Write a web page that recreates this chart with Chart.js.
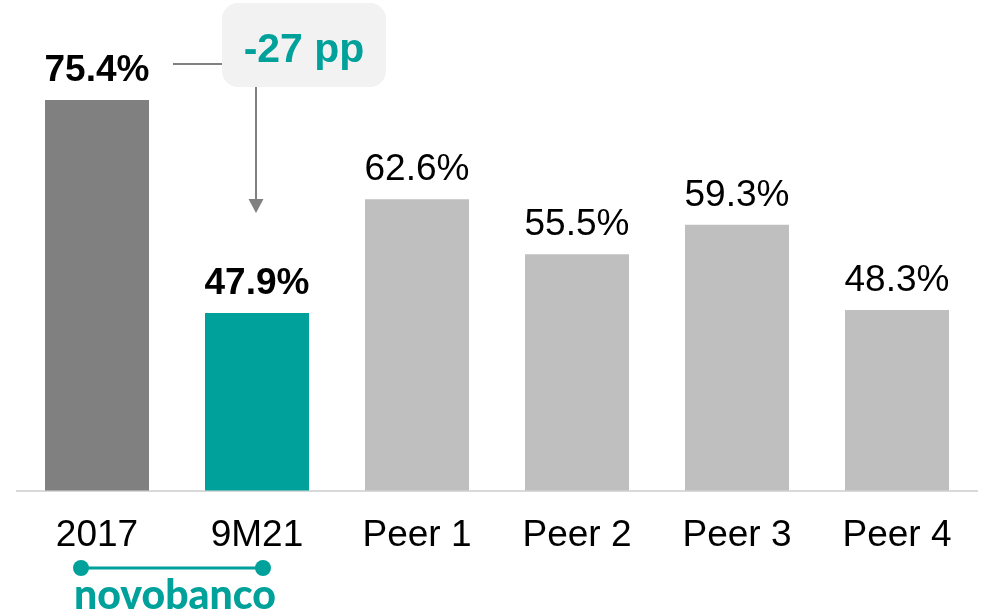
<!DOCTYPE html>
<html>
<head>
<meta charset="utf-8">
<script src="https://cdn.jsdelivr.net/npm/chart.js@4.4.0/dist/chart.umd.min.js"></script>
<style>
  html, body { margin: 0; padding: 0; background: #ffffff; }
  #wrap { width: 987px; height: 614px; }
</style>
</head>
<body>
<div id="wrap"><canvas id="costChart" width="987" height="614"></canvas></div>
<script>
// Data
const categories = ["2017", "9M21", "Peer 1", "Peer 2", "Peer 3", "Peer 4"];
const values = [75.4, 47.9, 62.6, 55.5, 59.3, 48.3];
const barColors = ["#808080", "#00A19A", "#BFBFBF", "#BFBFBF", "#BFBFBF", "#BFBFBF"];
const boldLabels = [true, true, false, false, false, false];
const deltaLabel = "-27 pp";
const brandLabel = "novobanco";

const TEAL = "#00A19A";
const FONT = "'Liberation Sans', Arial, sans-serif";

// Value labels, delta callout and novobanco bracket
const overlayPlugin = {
  id: "overlay",
  afterDatasetsDraw(chart) {
    const ctx = chart.ctx;
    const bars = chart.getDatasetMeta(0).data;
    ctx.save();

    // value labels above bars
    ctx.textAlign = "center";
    ctx.textBaseline = "alphabetic";
    bars.forEach((bar, i) => {
      ctx.font = (boldLabels[i] ? "bold " : "") + "37px " + FONT;
      ctx.fillStyle = "#000000";
      ctx.fillText(values[i].toFixed(1) + "%", bar.x, bar.y - 19);
    });

    // delta callout box
    const b0 = bars[0], b1 = bars[1];
    const boxX = b1.x - 35, boxY = 3, boxW = 164, boxH = 84;
    ctx.fillStyle = "#F2F2F2";
    ctx.beginPath();
    ctx.roundRect(boxX, boxY, boxW, boxH, 16);
    ctx.fill();
    ctx.fillStyle = TEAL;
    ctx.font = "bold 41px " + FONT;
    ctx.fillText(deltaLabel, boxX + boxW / 2, 62);

    // connector from 2017 label to box
    ctx.strokeStyle = "#808080";
    ctx.lineWidth = 2;
    ctx.beginPath();
    ctx.moveTo(b0.x + 76, 64);
    ctx.lineTo(boxX, 64);
    ctx.stroke();

    // arrow down to 9M21
    const ax = b1.x - 1;
    const tipY = 213;
    ctx.beginPath();
    ctx.moveTo(ax, boxY + boxH);
    ctx.lineTo(ax, tipY - 12);
    ctx.stroke();
    ctx.fillStyle = "#808080";
    ctx.beginPath();
    ctx.moveTo(ax - 7.5, tipY - 14);
    ctx.lineTo(ax + 7.5, tipY - 14);
    ctx.lineTo(ax, tipY);
    ctx.closePath();
    ctx.fill();

    // novobanco bracket
    const lx = b0.x - 16, rx = b1.x + 6, ly = 568;
    ctx.strokeStyle = TEAL;
    ctx.fillStyle = TEAL;
    ctx.lineWidth = 3;
    ctx.beginPath();
    ctx.moveTo(lx, ly);
    ctx.lineTo(rx, ly);
    ctx.stroke();
    [lx, rx].forEach(x => {
      ctx.beginPath();
      ctx.arc(x, ly, 8, 0, Math.PI * 2);
      ctx.fill();
    });
    ctx.font = "900 41px Lato, 'Open Sans', sans-serif";
    ctx.fillText(brandLabel, (b0.x + b1.x) / 2 - 2, 609);

    ctx.restore();
  }
};

const ctx = document.getElementById("costChart").getContext("2d");

new Chart(ctx, {
  type: "bar",
  data: {
    labels: categories,
    datasets: [
      {
        data: values,
        backgroundColor: barColors,
        borderWidth: 0,
        categoryPercentage: 1,
        barPercentage: 0.65
      }
    ]
  },
  options: {
    responsive: false,
    animation: false,
    layout: { padding: { top: 0, left: 17, right: 10, bottom: 33 } },
    plugins: {
      legend: { display: false },
      tooltip: { enabled: false }
    },
    scales: {
      x: {
        grid: { display: false, drawTicks: false },
        border: { display: true, color: "#D9D9D9", width: 2 },
        ticks: {
          color: "#000000",
          font: { family: FONT, size: 37 },
          padding: 23
        }
      },
      y: {
        display: false,
        min: 25,
        max: 88.3
      }
    }
  },
  plugins: [overlayPlugin]
});
</script>
</body>
</html>
